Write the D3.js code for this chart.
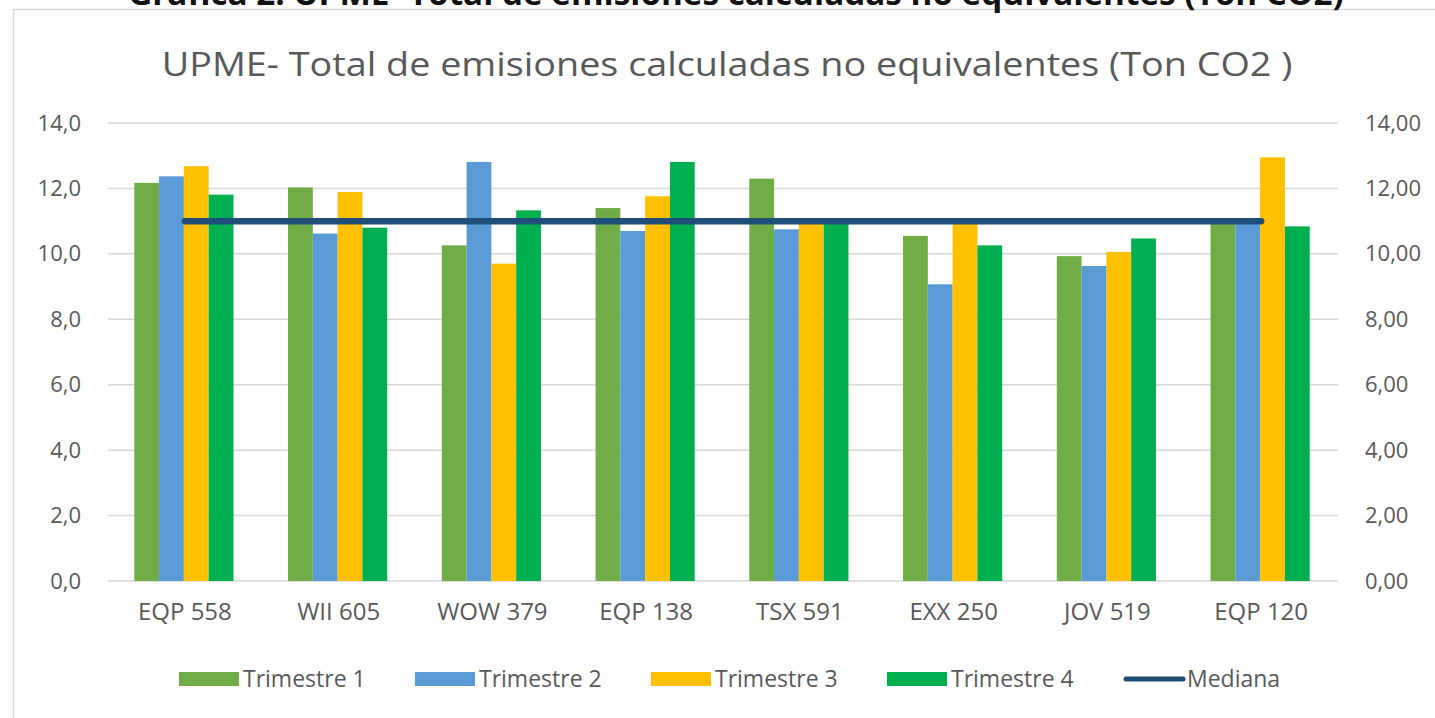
<!DOCTYPE html>
<html>
<head>
<meta charset="utf-8">
<script src="https://cdn.jsdelivr.net/npm/d3@7"></script>
<style>
  body { margin: 0; background: #fff; }
  text { font-family: "Open Sans", "Noto Sans", sans-serif; }
</style>
</head>
<body>
<div class="chart"></div>
<script>
// chart data
var categories = ["EQP 558", "WII 605", "WOW 379", "EQP 138", "TSX 591", "EXX 250", "JOV 519", "EQP 120"];
var seriesNames = ["Trimestre 1", "Trimestre 2", "Trimestre 3", "Trimestre 4"];
var trimestre1 = [12.17, 12.03, 10.26, 11.40, 12.30, 10.55, 9.93, 10.97];
var trimestre2 = [12.37, 10.62, 12.81, 10.70, 10.75, 9.07, 9.63, 10.97];
var trimestre3 = [12.68, 11.89, 9.70, 11.76, 10.94, 10.96, 10.06, 12.95];
var trimestre4 = [11.81, 10.80, 11.33, 12.81, 10.95, 10.26, 10.47, 10.84];
var mediana = [11.0, 11.0, 11.0, 11.0, 11.0, 11.0, 11.0, 11.0];
var leftTicks = [0, 2, 4, 6, 8, 10, 12, 14];
var rightTicks = [0, 2, 4, 6, 8, 10, 12, 14];

var svgWidth = 1435;
var svgHeight = 718;

var margin = { top: 123, right: 97, bottom: 137, left: 108 };
var width = svgWidth - margin.left - margin.right;
var height = svgHeight - margin.top - margin.bottom;

var colors = ["#70AD47", "#5B9BD5", "#FFC000", "#00B050"];
var medianColor = "#1F4E79";
var textColor = "#595959";

var locale = d3.formatLocale({ decimal: ",", thousands: ".", grouping: [3], currency: ["", ""] });
var fmt1 = locale.format(".1f");
var fmt2 = locale.format(".2f");

var svg = d3.select(".chart")
  .append("svg")
  .attr("width", svgWidth)
  .attr("height", svgHeight);

// outer box of the chart (right edge runs off the picture)
svg.append("rect")
  .attr("x", 13.5)
  .attr("y", 9.5)
  .attr("width", svgWidth)
  .attr("height", svgHeight)
  .attr("fill", "#fff")
  .attr("stroke", "#D9D9D9")
  .attr("stroke-width", 1.5);

// document caption above the box, mostly cut off like in the scan
svg.append("text")
  .attr("transform", "translate(736, 5) scale(1.04, 1)")
  .attr("text-anchor", "middle")
  .attr("font-size", 32)
  .attr("font-weight", "bold")
  .attr("fill", "#111")
  .text("Gráfica 2. UPME- Total de emisiones calculadas no equivalentes (Ton CO2)");

// chart title, a bit stretched sideways like the source
svg.append("text")
  .attr("transform", "translate(727, 76) scale(1.18, 1)")
  .attr("text-anchor", "middle")
  .attr("font-size", 32)
  .attr("fill", textColor)
  .text("UPME- Total de emisiones calculadas no equivalentes (Ton CO2 )");

var chartGroup = svg.append("g")
  .attr("transform", `translate(${margin.left}, ${margin.top})`);

var xScale = d3.scaleBand()
  .domain(categories)
  .range([0, width]);

var groupWidth = xScale.bandwidth() * 0.645;
var x1 = d3.scaleBand()
  .domain(seriesNames)
  .range([0, groupWidth]);

var yScale = d3.scaleLinear()
  .domain([0, 14])
  .range([height, 0]);

// gridlines
chartGroup.append("g")
  .selectAll("line")
  .data(leftTicks)
  .enter()
  .append("line")
  .attr("x1", 0)
  .attr("x2", width)
  .attr("y1", d => yScale(d))
  .attr("y2", d => yScale(d))
  .attr("stroke", "#D9D9D9")
  .attr("stroke-width", 1.5);

// left axis
var leftAxis = d3.axisLeft(yScale).tickValues(leftTicks).tickFormat(fmt1).tickSize(0).tickPadding(27);
var gLeft = chartGroup.append("g").call(leftAxis);
gLeft.select(".domain").remove();
gLeft.selectAll("text").attr("font-size", 22).attr("fill", textColor);

// right axis
var rightAxis = d3.axisRight(yScale).tickValues(rightTicks).tickFormat(fmt2).tickSize(0).tickPadding(27);
var gRight = chartGroup.append("g")
  .attr("transform", `translate(${width}, 0)`)
  .call(rightAxis);
gRight.select(".domain").remove();
gRight.selectAll("text").attr("font-size", 22).attr("fill", textColor);

// bottom axis labels
var bottomAxis = d3.axisBottom(xScale).tickSize(0).tickPadding(22);
var gBottom = chartGroup.append("g")
  .attr("transform", `translate(0, ${height})`)
  .call(bottomAxis);
gBottom.select(".domain").remove();
gBottom.selectAll("text").attr("font-size", 24).attr("fill", textColor);

// bars
var allSeries = [trimestre1, trimestre2, trimestre3, trimestre4];
var barData = [];
categories.forEach(function(cat, i) {
  seriesNames.forEach(function(s, j) {
    barData.push({ cat: cat, series: s, value: allSeries[j][i], color: colors[j] });
  });
});

chartGroup.append("g")
  .selectAll("rect")
  .data(barData)
  .enter()
  .append("rect")
  .attr("x", d => xScale(d.cat) + (xScale.bandwidth() - groupWidth) / 2 - 1 + x1(d.series))
  .attr("y", d => yScale(d.value))
  .attr("width", x1.bandwidth())
  .attr("height", d => height - yScale(d.value))
  .attr("fill", d => d.color);

// median line
var line = d3.line()
  .x((d, i) => xScale(categories[i]) + xScale.bandwidth() / 2)
  .y(d => yScale(d));

chartGroup.append("path")
  .datum(mediana)
  .attr("d", line)
  .attr("fill", "none")
  .attr("stroke", medianColor)
  .attr("stroke-width", 6.5)
  .attr("stroke-linecap", "round");

// legend
var legendItems = seriesNames.concat(["Mediana"]);
var legend = svg.append("g")
  .attr("transform", "translate(179, 679)");

var items = legend.selectAll("g")
  .data(legendItems)
  .enter()
  .append("g")
  .attr("transform", (d, i) => `translate(${i * 236}, 0)`);

items.each(function(d, i) {
  var g = d3.select(this);
  if (i < 4) {
    g.append("rect")
      .attr("x", 0)
      .attr("y", -7)
      .attr("width", 60)
      .attr("height", 14)
      .attr("fill", colors[i]);
  } else {
    g.append("line")
      .attr("x1", 3)
      .attr("x2", 60)
      .attr("y1", 0)
      .attr("y2", 0)
      .attr("stroke", medianColor)
      .attr("stroke-width", 5)
      .attr("stroke-linecap", "round");
  }
  g.append("text")
    .attr("x", 64)
    .attr("y", 0)
    .attr("dy", "0.36em")
    .attr("font-size", 23)
    .attr("fill", textColor)
    .text(d);
});
</script>
</body>
</html>
